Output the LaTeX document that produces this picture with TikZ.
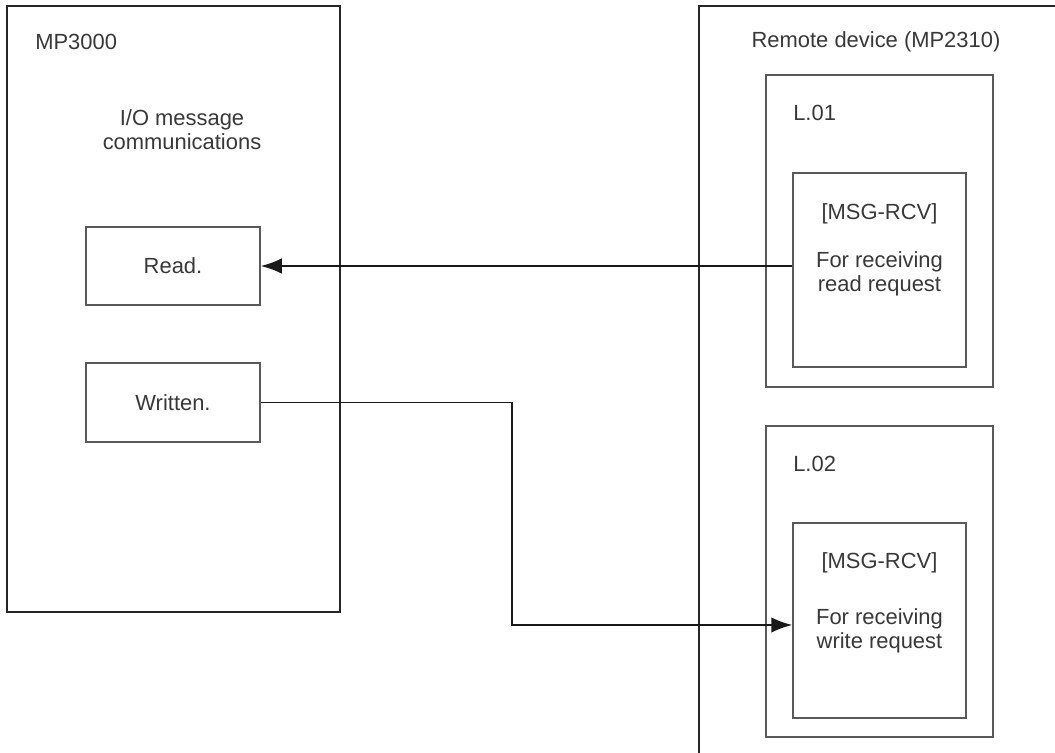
\documentclass[tikz,border=0pt]{standalone}
\usepackage{fontspec}
\setmainfont{Liberation Sans}
\usetikzlibrary{arrows.meta}
\tikzset{
  outer frame/.style={draw=black!85, line width=1.3pt},
  unit box/.style={draw=black!65, line width=0.9pt, inner sep=0pt},
  label text/.style={text=black!78, font=\fontsize{15.6}{17}\selectfont, inner sep=0pt, align=center},
  flow/.style={draw=black!90, line width=1.4pt, -{Latex[length=15pt,width=11pt]}}
}

\begin{document}
\begin{tikzpicture}[x=0.025cm, y=-0.025cm]

  % Page size (pixel grid, y runs downwards)
  \useasboundingbox (0,0) rectangle (1055,753);

  % Local station
  \node[outer frame, minimum width=8.325cm, minimum height=15.15cm] (mp) at (173.5,309) {};
  \node[label text, anchor=west] (mpname) at (35,42) {MP3000};
  \node[label text] (iomsg) at (182,130) {I/O message\\communications};
  \node[unit box, label text, minimum width=4.35cm, minimum height=1.95cm] (read) at (173,266) {Read.};
  \node[unit box, label text, minimum width=4.35cm, minimum height=1.975cm] (written) at (173,402.5) {Written.};

  % Remote station (runs off the page to the right and below)
  \draw[outer frame] (699,753) -- (699,6) -- (1055,6);
  \node[label text] (remote) at (876,42) {Remote device (MP2310)};

  % Line 01
  \node[unit box, minimum width=5.675cm, minimum height=7.8cm] (lineA) at (879.5,231) {};
  \node[label text, anchor=west] (lineAname) at (793,113) {L.01};
  \node[unit box, minimum width=4.325cm, minimum height=4.85cm] (rcvA) at (879.5,270) {};
  \node[label text] (rcvAtitle) at (879.5,214) {[MSG-RCV]};
  \node[label text] (rcvAtext) at (879.5,274) {For receiving\\read request};

  % Line 02
  \node[unit box, minimum width=5.675cm, minimum height=7.775cm] (lineB) at (879.5,581.5) {};
  \node[label text, anchor=west] (lineBname) at (793,463.5) {L.02};
  \node[unit box, minimum width=4.325cm, minimum height=4.875cm] (rcvB) at (879.5,620.5) {};
  \node[label text] (rcvBtitle) at (879.5,563) {[MSG-RCV]};
  \node[label text] (rcvBtext) at (879.5,631) {For receiving\\write request};

  % Message flows
  \draw[flow] (rcvA.west |- read.east) -- (read.east);
  \coordinate (elbow) at (512,625);
  \draw[flow] (written.east) -| (elbow) -- (elbow -| rcvB.west);
\end{tikzpicture}
\end{document}
